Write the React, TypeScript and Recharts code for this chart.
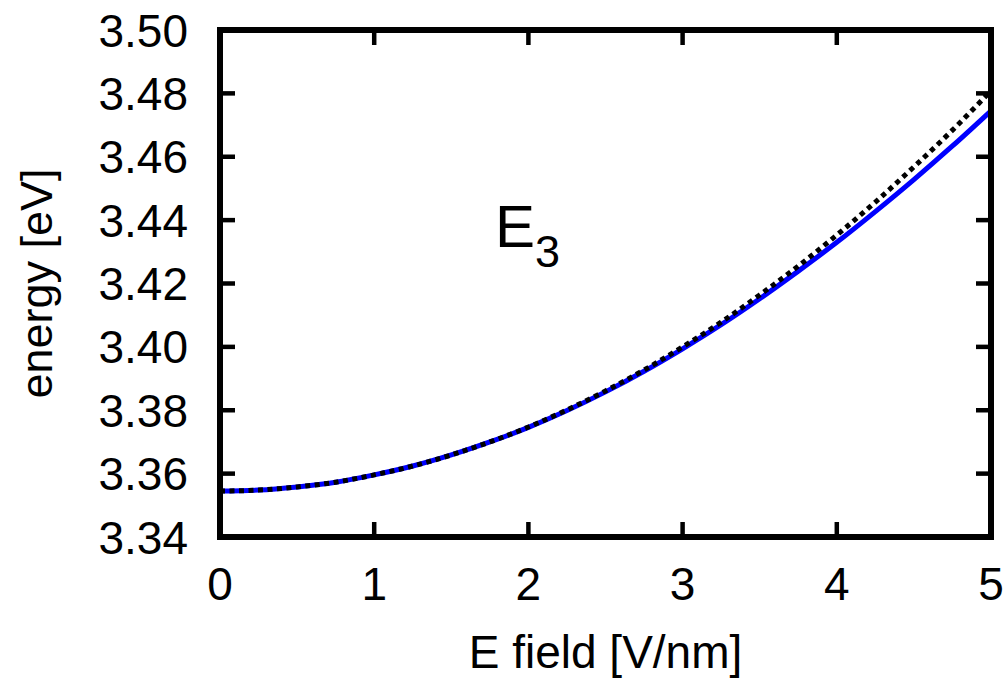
import { LineChart, Line, XAxis, YAxis, ReferenceArea, Label } from 'recharts';

const fieldValues = [0, 0.25, 0.5, 0.75, 1, 1.25, 1.5, 1.75, 2, 2.25, 2.5, 2.75, 3, 3.25, 3.5, 3.75, 4, 4.25, 4.5, 4.75, 5];
const blueEnergy = [3.3545, 3.3548, 3.3558, 3.3573, 3.3596, 3.3624, 3.3659, 3.37, 3.3746, 3.3799, 3.3858, 3.3923, 3.3994, 3.407, 3.4152, 3.4239, 3.433, 3.4427, 3.4528, 3.4634, 3.4745];
const dottedEnergy = [3.3545, 3.3548, 3.3558, 3.3573, 3.3596, 3.3624, 3.3659, 3.37, 3.3747, 3.3801, 3.3861, 3.3927, 3.4, 3.4078, 3.4164, 3.4255, 3.4353, 3.4457, 3.4568, 3.4684, 3.4808];
const xTicks = [0, 1, 2, 3, 4, 5];
const yTicks = [3.34, 3.36, 3.38, 3.4, 3.42, 3.44, 3.46, 3.48, 3.5];

const data = fieldValues.map((f, i) => ({ field: f, blue: blueEnergy[i], dotted: dottedEnergy[i] }));

const FONT = '"Liberation Sans", Arial, Helvetica, sans-serif';
const TICK_LEN = 15;
const frameLine = { stroke: '#000', strokeWidth: 6, strokeLinecap: 'square' as const };

const BottomTick = (props: any) => {
    const { x, y, payload } = props;
    return (
        <g>
            <line x1={x} y1={y} x2={x} y2={y - TICK_LEN} stroke="#000" strokeWidth={4.5} />
            <text x={x} y={y + 63} textAnchor="middle" fontSize={46} fontFamily={FONT} fill="#000">
                {payload.value}
            </text>
        </g>
    );
};

const TopTick = (props: any) => {
    const { x, y } = props;
    return <line x1={x} y1={y} x2={x} y2={y + TICK_LEN} stroke="#000" strokeWidth={4.5} />;
};

const LeftTick = (props: any) => {
    const { x, y, payload } = props;
    return (
        <g>
            <line x1={x} y1={y} x2={x + TICK_LEN} y2={y} stroke="#000" strokeWidth={4.5} />
            <text x={x - 32} y={y + 16.5} textAnchor="end" fontSize={46} fontFamily={FONT} fill="#000">
                {Number(payload.value).toFixed(2)}
            </text>
        </g>
    );
};

const RightTick = (props: any) => {
    const { x, y } = props;
    return <line x1={x} y1={y} x2={x - TICK_LEN} y2={y} stroke="#000" strokeWidth={4.5} />;
};

export default function App() {
    return (
        <div style={{ position: 'absolute', left: 0, top: 0, background: '#fff' }}>
            <LineChart
                width={1007}
                height={678}
                data={data}
                margin={{ top: 20, right: 6, bottom: 81, left: 0 }}
            >
                <XAxis
                    dataKey="field"
                    type="number"
                    domain={[0, 5]}
                    ticks={xTicks}
                    height={60}
                    axisLine={frameLine}
                    tickLine={false}
                    tickSize={0}
                    tickMargin={0}
                    tick={<BottomTick />}
                    interval={0}
                >
                    <Label
                        content={(p: any) => {
                            const vb = p.viewBox;
                            return (
                                <text x={vb.x + vb.width / 2} y={vb.y + 131} textAnchor="middle" fontSize={46} fontFamily={FONT} fill="#000">
                                    E field [V/nm]
                                </text>
                            );
                        }}
                    />
                </XAxis>
                <XAxis
                    xAxisId="top"
                    orientation="top"
                    dataKey="field"
                    type="number"
                    domain={[0, 5]}
                    ticks={xTicks}
                    height={10}
                    axisLine={frameLine}
                    tickLine={false}
                    tickSize={0}
                    tickMargin={0}
                    tick={<TopTick />}
                    interval={0}
                />
                <YAxis
                    type="number"
                    domain={[3.34, 3.5]}
                    ticks={yTicks}
                    width={220}
                    axisLine={frameLine}
                    tickLine={false}
                    tickSize={0}
                    tickMargin={0}
                    tick={<LeftTick />}
                    interval={0}
                    allowDataOverflow
                >
                    <Label
                        content={(p: any) => {
                            const vb = p.viewBox;
                            const cy = vb.y + vb.height / 2;
                            return (
                                <text x={52} y={cy} transform={`rotate(-90, 52, ${cy})`} textAnchor="middle" fontSize={45} fontFamily={FONT} fill="#000">
                                    energy [eV]
                                </text>
                            );
                        }}
                    />
                </YAxis>
                <YAxis
                    yAxisId="right"
                    orientation="right"
                    type="number"
                    domain={[3.34, 3.5]}
                    ticks={yTicks}
                    width={10}
                    axisLine={frameLine}
                    tickLine={false}
                    tickSize={0}
                    tickMargin={0}
                    tick={<RightTick />}
                    interval={0}
                    allowDataOverflow
                />
                <Line
                    type="monotone"
                    dataKey="blue"
                    stroke="#0000ff"
                    strokeWidth={5}
                    dot={false}
                    isAnimationActive={false}
                />
                <Line
                    type="monotone"
                    dataKey="dotted"
                    stroke="#000"
                    strokeWidth={5}
                    strokeDasharray="5 4.5"
                    dot={false}
                    isAnimationActive={false}
                />
                <ReferenceArea
                    x1={0}
                    x2={5}
                    y1={3.34}
                    y2={3.5}
                    fill="none"
                    fillOpacity={0}
                    stroke="none"
                >
                    <Label
                        content={() => (
                            <text x={495} y={247} fontSize={60} fontFamily={FONT} fill="#000">
                                E
                                <tspan dy={20} fontSize={45}>3</tspan>
                            </text>
                        )}
                    />
                </ReferenceArea>
            </LineChart>
        </div>
    );
}
